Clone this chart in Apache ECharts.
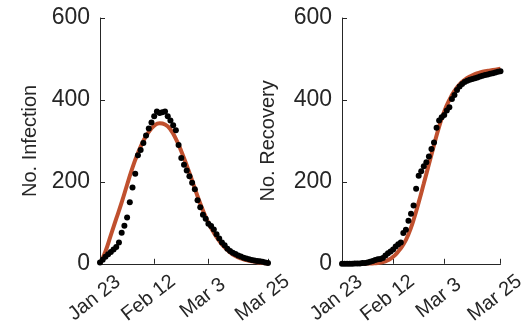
<!DOCTYPE html>
<html>
<head>
<meta charset="utf-8">
<script src="https://cdn.jsdelivr.net/npm/echarts@6/dist/echarts.min.js"></script>
<style>html,body{margin:0;padding:0;background:#fff}#c{width:528px;height:327px}</style>
</head>
<body>
<div id="c"></div>
<script>
// day index 0 = Jan 23, 62 = Mar 25
const tickDays = [0, 20, 40, 62];
const tickLabels = ['Jan 23', 'Feb 12', 'Mar 3', 'Mar 25'];
const yTicks = [0, 200, 400, 600];

const infectionObserved = [3,10,17,23,29,35,41,52,76,93,113,150,186,220,265,278,295,313,330,345,360,372,368,370,372,360,350,338,326,290,258,242,228,214,198,182,155,138,120,110,98,92,84,72,62,52,45,37,31,27,24,20,18,15,13,11,9,8,7,6,5,3,2];
const infectionFitDays = [0,2,4,6,8,10,12,14,16,18,20,22,24,26,28,30,32,34,36,38,40,42,44,46,48,50,52,54,56,58,60,62];
const infectionFit = [0,30,70,110,150,193,235,270,300,322,337,343,340,328,305,275,240,203,165,130,100,76,56,40,28,19,13,9,6,4,2,1];

const recoveryObserved = [0,0,0,0,0,1,1,1,2,2,3,5,7,9,11,12,14,20,26,30,35,42,48,52,75,83,105,122,142,183,215,226,238,248,262,280,296,332,350,358,363,374,382,402,412,424,433,439,444,447,449,451,453,455,457,459,461,462,464,465,467,469,470];
const recoveryFitDays = [0,2,4,6,8,10,12,14,16,18,20,22,24,26,28,30,32,34,36,38,40,42,44,46,48,50,52,54,56,58,60,62];
const recoveryFit = [0,0,0,0,0,0.5,1,2,4,9,17,30,47,72,107,150,196,243,290,335,372,400,422,438,449,457,463,467,470,472,474,476];

const pairs = (xs, ys) => ys.map((v, i) => [xs[i], v]);
const idx = a => a.map((v, i) => [i, v]);

const axisColor = '#262626';
const fitColor = '#C0502E';
const font = 'Liberation Sans, Arial, sans-serif';

function xAxis(gi) {
  return {
    type: 'value', gridIndex: gi, min: 0, max: 62,
    axisLine: {show: true, lineStyle: {color: axisColor, width: 1}},
    axisTick: {show: true, inside: true, length: 5, lineStyle: {color: axisColor}, customValues: tickDays},
    axisLabel: {customValues: tickDays, rotate: 38, fontSize: 20, color: axisColor, fontFamily: font, margin: 30,
      align: 'center', verticalAlign: 'middle', padding: [0, 14, 0, 0],
      formatter: v => tickLabels[tickDays.indexOf(v)]},
    splitLine: {show: false}
  };
}
function yAxis(gi, name, gap) {
  return {
    type: 'value', gridIndex: gi, min: 0, max: 600, interval: 200,
    name: name, nameLocation: 'middle', nameGap: gap,
    nameTextStyle: {fontSize: 20, color: axisColor, fontFamily: font},
    axisLine: {show: true, lineStyle: {color: axisColor, width: 1}},
    axisTick: {show: true, inside: true, length: 5, lineStyle: {color: axisColor}},
    axisLabel: {fontSize: 23, color: axisColor, fontFamily: font, margin: 10,
      formatter: v => String(yTicks[yTicks.indexOf(v)])},
    splitLine: {show: false}
  };
}

const chart = echarts.init(document.getElementById('c'));
chart.setOption({
  animation: false,
  backgroundColor: '#fff',
  grid: [
    {left: 100, top: 18, width: 168, height: 248},
    {left: 342, top: 18, width: 167, height: 248}
  ],
  xAxis: [xAxis(0), xAxis(1)],
  yAxis: [yAxis(0, 'No. Infection', 60), yAxis(1, 'No. Recovery', 64)],
  series: [
    {type: 'line', xAxisIndex: 0, yAxisIndex: 0, data: pairs(infectionFitDays, infectionFit), smooth: true, symbol: 'none',
      lineStyle: {color: fitColor, width: 4}, clip: false, z: 2},
    {type: 'scatter', xAxisIndex: 0, yAxisIndex: 0, data: idx(infectionObserved), symbolSize: 6,
      itemStyle: {color: '#000', opacity: 1}, clip: false, z: 3},
    {type: 'line', xAxisIndex: 1, yAxisIndex: 1, data: pairs(recoveryFitDays, recoveryFit), smooth: true, symbol: 'none',
      lineStyle: {color: fitColor, width: 4}, clip: false, z: 2},
    {type: 'scatter', xAxisIndex: 1, yAxisIndex: 1, data: idx(recoveryObserved), symbolSize: 6,
      itemStyle: {color: '#000', opacity: 1}, clip: false, z: 3}
  ]
});
</script>
</body>
</html>
